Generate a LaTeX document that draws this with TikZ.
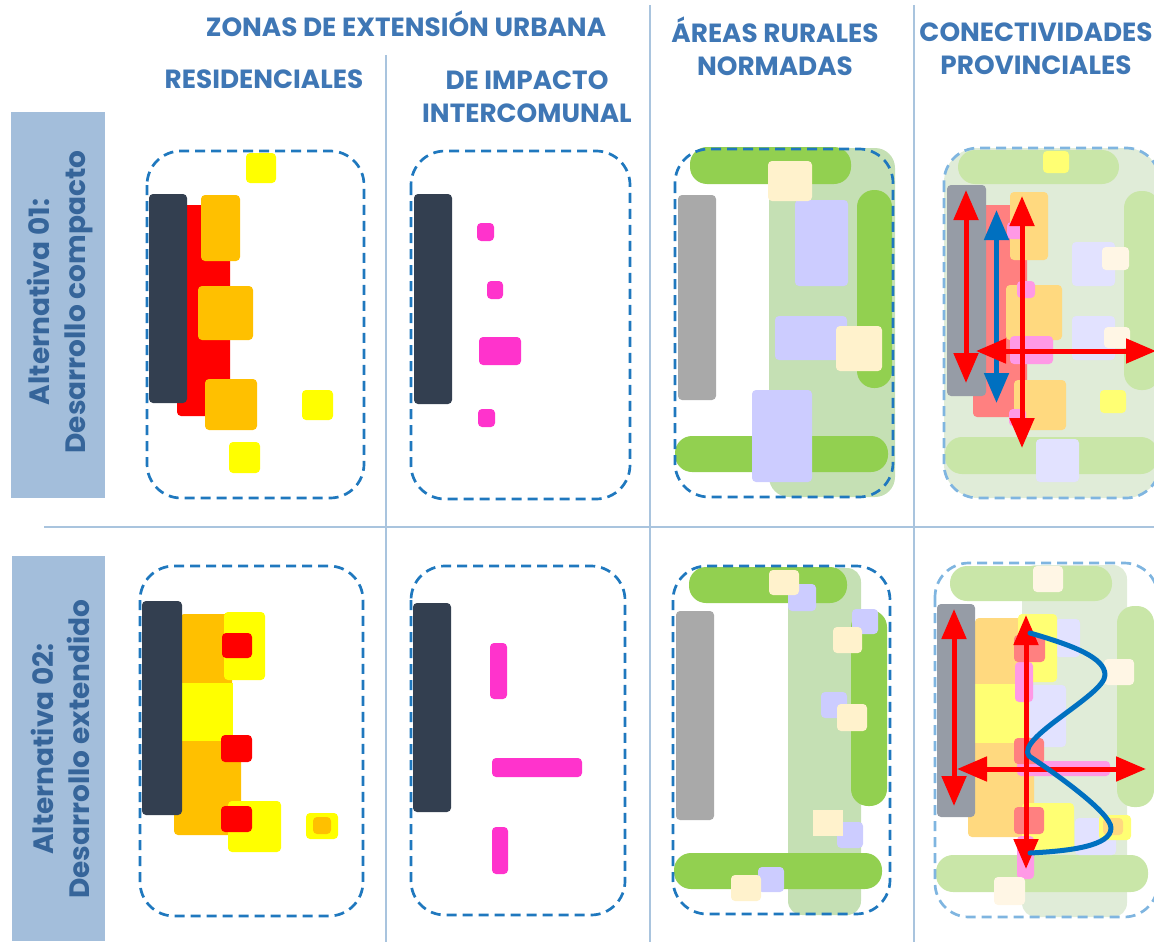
\documentclass[tikz,border=0pt]{standalone}
\usepackage{fontspec}
\setmainfont{Poppins}
\usetikzlibrary{arrows.meta}
\definecolor{headblue}{HTML}{3F77B5}
\definecolor{sideblue}{HTML}{A3BEDB}
\definecolor{ruleblue}{HTML}{A9C4DE}
\definecolor{dashblue}{HTML}{1F78BE}
\definecolor{dashpale}{HTML}{7FB5E0}
\definecolor{coreslate}{HTML}{333F50}
\definecolor{coregrey}{HTML}{A9A9A9}
\definecolor{coremid}{HTML}{969CA6}
\definecolor{orangeA}{HTML}{FFC000}
\definecolor{orangeB}{HTML}{FFD97F}
\definecolor{yellowA}{HTML}{FFFF00}
\definecolor{yellowB}{HTML}{FFFF73}
\definecolor{redA}{HTML}{FF0000}
\definecolor{redB}{HTML}{FF8080}
\definecolor{pinkA}{HTML}{FF33CC}
\definecolor{pinkB}{HTML}{FF99E6}
\definecolor{leafA}{HTML}{92D050}
\definecolor{leafB}{HTML}{C9E6A8}
\definecolor{sageA}{HTML}{C5E0B4}
\definecolor{sageB}{HTML}{E0ECD8}
\definecolor{creamA}{HTML}{FFF2CC}
\definecolor{creamB}{HTML}{FFF6E5}
\definecolor{lilacA}{HTML}{CCCCFF}
\definecolor{lilacB}{HTML}{E2E2FF}
\definecolor{flowblue}{HTML}{0070C0}
\begin{document}
\begin{tikzpicture}[x=1pt,y=-1pt]
    \tikzstyle{head} = [text=headblue, font=\fontsize{26.3}{33}\selectfont\bfseries, align=center]
    \tikzstyle{side} = [text=headblue!85!black, font=\fontsize{28}{36}\selectfont\bfseries, align=center, rotate=90]
    \tikzstyle{rule} = [ruleblue, line width=1.3pt]
    \tikzstyle{limit} = [dashblue, line width=2.7pt, rounded corners=34pt, dash pattern=on 10pt off 6pt]
    \tikzstyle{limitp} = [limit, dashpale]
    \tikzstyle{box} = [rounded corners=4pt]
    \tikzstyle{pill} = [rounded corners=17pt]
    \tikzstyle{arrow} = [redA, line width=5pt, {Triangle[length=30pt,width=24pt]}-{Triangle[length=30pt,width=24pt]}]
    \tikzstyle{arrowb} = [arrow, flowblue]
    \clip (0,0) rectangle (1154,942);
    % side bands and rules
    \fill[sideblue] (11,112) rectangle (105,498);
    \fill[sideblue] (12,556) rectangle (105,941);
    \draw[rule] (386,55) -- (386,942);
    \draw[rule] (650,5) -- (650,942);
    \draw[rule] (914,5) -- (914,942);
    \draw[rule] (44,527) -- (1154,527);
    % headings
    \node (zonas) [head] at (406,24) {ZONAS DE EXTENSIÓN URBANA};
    \node (resid) [head] at (264,79) {RESIDENCIALES};
    \node (impact) [head] at (527,97) {DE IMPACTO\\INTERCOMUNAL};
    \node (rural) [head] at (775,46) {ÁREAS RURALES\\NORMADAS};
    \node (conect) [head, inner sep=0pt] at (1036,49) {CONECTIVIDADES\\PROVINCIALES};
    \node (alt1) [side] at (60,302) {Alternativa 01:\\Desarrollo compacto};
    \node (alt2) [side] at (60,749) {Alternativa 02:\\Desarrollo extendido};
    % row 1, residenciales
    \fill[box, yellowA] (246,153) rectangle (276,183);
    \fill[box, redA] (177,205) rectangle (230,416);
    \fill[box, coreslate] (149,194) rectangle (187,403);
    \fill[box, orangeA] (201,195) rectangle (240,261);
    \fill[box, orangeA] (198,286) rectangle (253,340);
    \fill[box, orangeA] (205,379) rectangle (257,430);
    \fill[box, yellowA] (302,390) rectangle (333,420);
    \fill[box, yellowA] (229,442) rectangle (260,473);
    \draw[limit] (147,151) rectangle (364,498);
    % row 1, impacto
    \fill[box, coreslate] (414,194) rectangle (452,404);
    \fill[box, pinkA] (477,223) rectangle (494,241);
    \fill[box, pinkA] (487,281) rectangle (503,299);
    \fill[box, pinkA] (479,337) rectangle (521,365);
    \fill[box, pinkA] (478,409) rectangle (495,427);
    \draw[limit] (411,151) rectangle (630,499);
    % row 1, rurales
    \fill[sageA, rounded corners=20pt] (769,148) rectangle (895,497);
    \fill[pill, leafA] (690,147) rectangle (851,184);
    \fill[pill, leafA] (857,190) rectangle (892,388);
    \fill[pill, leafA] (675,436) rectangle (888,472);
    \fill[box, coregrey] (678,195) rectangle (716,400);
    \fill[box, lilacA] (795,200) rectangle (848,286);
    \fill[box, lilacA] (775,316) rectangle (847,360);
    \fill[box, lilacA] (752,390) rectangle (812,482);
    \fill[box, creamA] (768,161) rectangle (812,201);
    \fill[box, creamA] (836,326) rectangle (882,371);
    \draw[limit] (675,149) rectangle (893,497);
    % row 1, conectividades
    \fill[sageB, rounded corners=34pt] (944,148) rectangle (1160,498);
    \fill[pill, leafB] (958,150) rectangle (1119,184);
    \fill[pill, leafB] (1124,191) rectangle (1160,390);
    \fill[pill, leafB] (945,437) rectangle (1158,474);
    \fill[box, yellowB] (1043,151) rectangle (1069,173);
    \fill[box, redB] (973,205) rectangle (1027,417);
    \fill[box, coremid] (947,185) rectangle (986,396);
    \fill[box, orangeB] (1010,192) rectangle (1048,260);
    \fill[box, orangeB] (1006,285) rectangle (1062,340);
    \fill[box, orangeB] (1014,380) rectangle (1066,430);
    \fill[box, pinkB] (1007,222) rectangle (1024,239);
    \fill[box, pinkB] (1017,281) rectangle (1035,298);
    \fill[box, pinkB] (1010,336) rectangle (1053,364);
    \fill[box, pinkB] (1009,409) rectangle (1026,426);
    \fill[box, lilacB] (1072,242) rectangle (1115,286);
    \fill[box, lilacB] (1072,316) rectangle (1115,360);
    \fill[box, lilacB] (1036,439) rectangle (1079,482);
    \fill[box, creamB] (1102,247) rectangle (1129,270);
    \fill[box, creamB] (1104,327) rectangle (1130,348);
    \fill[box, yellowB] (1100,390) rectangle (1126,413);
    \draw[limitp] (944,148) rectangle (1160,498);
    \coordinate (c1a) at (966,190);
    \coordinate (c1b) at (966,383);
    \coordinate (c1c) at (996.5,210);
    \coordinate (c1d) at (996.5,403);
    \coordinate (c1e) at (1022,196);
    \coordinate (c1f) at (1022,448);
    \coordinate (c1g) at (976,351);
    \coordinate (c1h) at (1156,351);
    \draw[arrowb] (c1c) to (c1d);
    \draw[arrow] (c1a) to (c1b);
    \draw[arrow] (c1e) to (c1f);
    \draw[arrow] (c1g) to (c1h);
    % row 2, residenciales
    \fill[box, orangeA] (180,614) rectangle (232,690);
    \fill[box, orangeA] (174,735) rectangle (241,835);
    \fill[yellowA] (180,683) rectangle (233,741);
    \fill[box, yellowA] (224,612) rectangle (265,680);
    \fill[box, yellowA] (228,801) rectangle (281,852);
    \fill[box, yellowA] (306,813) rectangle (338,839);
    \fill[box, orangeA] (313,817) rectangle (331,834);
    \fill[box, redA] (222,633) rectangle (252,658);
    \fill[box, redA] (221,735) rectangle (252,762);
    \fill[box, redA] (221,806) rectangle (252,832);
    \fill[box, coreslate] (142,601) rectangle (182,815);
    \draw[limit] (140,566) rectangle (363,916);
    % row 2, impacto
    \fill[box, coreslate] (413,603) rectangle (451,812);
    \fill[box, pinkA] (490,643) rectangle (507,699);
    \fill[box, pinkA] (492,758) rectangle (582,777);
    \fill[box, pinkA] (492,827) rectangle (508,874);
    \draw[limit] (411,566) rectangle (625,915);
    % row 2, rurales
    \fill[sageA, rounded corners=14pt] (788,568) rectangle (861,915);
    \fill[pill, leafA] (689,567) rectangle (847,603);
    \fill[pill, leafA] (851,610) rectangle (887,806);
    \fill[pill, leafA] (674,853) rectangle (882,889);
    \fill[box, coregrey] (676,611) rectangle (714,820);
    \fill[box, lilacA] (788,584) rectangle (816,611);
    \fill[box, lilacA] (852,609) rectangle (878,634);
    \fill[box, lilacA] (821,692) rectangle (847,718);
    \fill[box, lilacA] (837,822) rectangle (863,848);
    \fill[box, lilacA] (758,867) rectangle (784,892);
    \fill[box, creamA] (769,570) rectangle (799,595);
    \fill[box, creamA] (833,627) rectangle (862,653);
    \fill[box, creamA] (837,704) rectangle (867,731);
    \fill[creamA] (813,810) rectangle (843,836);
    \fill[box, creamA] (731,875) rectangle (761,901);
    \draw[limit] (673,566) rectangle (890,914);
    % row 2, conectividades
    \fill[sageB, rounded corners=14pt] (1022,565) rectangle (1127,917);
    \fill[pill, leafB] (950,566) rectangle (1112,601);
    \fill[pill, leafB] (1117,606) rectangle (1154,807);
    \fill[pill, leafB] (936,855) rectangle (1148,892);
    \fill[box, orangeB] (975,618) rectangle (1030,690);
    \fill[box, orangeB] (968,737) rectangle (1034,837);
    \fill[yellowB] (975,684) rectangle (1025,743);
    \fill[box, lilacB] (1055,619) rectangle (1080,657);
    \fill[box, lilacB] (1030,685) rectangle (1066,747);
    \fill[box, lilacB] (1075,818) rectangle (1116,855);
    \fill[box, yellowB] (1018,614) rectangle (1057,682);
    \fill[box, yellowB] (1022,803) rectangle (1074,852);
    \fill[box, yellowB] (1099,815) rectangle (1131,840);
    \fill[box, orangeB] (1103,818) rectangle (1123,835);
    \fill[box, pinkB] (1015,662) rectangle (1033,702);
    \fill[box, pinkB] (1017,761) rectangle (1110,776);
    \fill[box, pinkB] (1017,836) rectangle (1034,879);
    \fill[box, redB] (1014,635) rectangle (1045,662);
    \fill[box, redB] (1014,738) rectangle (1044,764);
    \fill[box, redB] (1014,807) rectangle (1044,834);
    \fill[box, creamB] (1033,566) rectangle (1063,592);
    \fill[box, creamB] (1104,659) rectangle (1134,685);
    \fill[box, creamB] (994,877) rectangle (1025,905);
    \fill[box, coremid] (937,604) rectangle (975,817);
    \draw[limitp] (935,563) rectangle (1158,917);
    \coordinate (c2a) at (954,609);
    \coordinate (c2b) at (954,806);
    \coordinate (c2c) at (1026,615);
    \coordinate (c2d) at (1026,869);
    \coordinate (c2e) at (957,769);
    \coordinate (c2f) at (1146,769);
    \draw[arrow] (c2a) to (c2b);
    \draw[arrow] (c2c) to (c2d);
    \draw[arrow] (c2e) to (c2f);
    \draw[flowblue, line width=5pt, line cap=round, line join=round] (1030,633) .. controls (1075,646) and (1105,658) .. (1105,675) .. controls (1105,695) and (1015,738) .. (1029,756) .. controls (1050,770) and (1111,812) .. (1111,828) .. controls (1111,846) and (1070,851) .. (1030,853);
\end{tikzpicture}
\end{document}
